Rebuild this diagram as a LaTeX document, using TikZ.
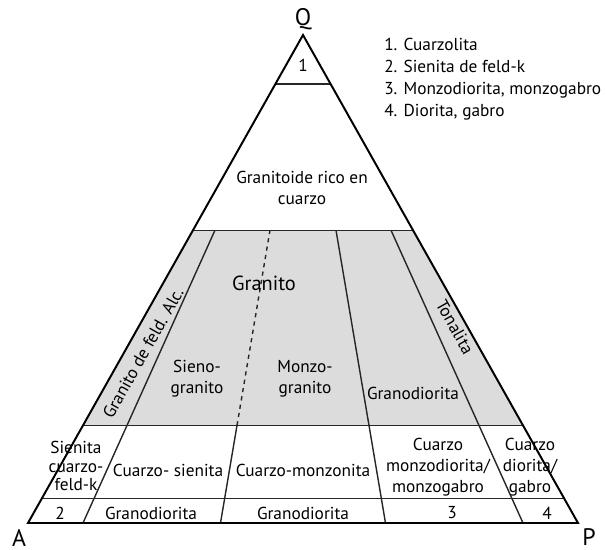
\documentclass[tikz,border=0pt]{standalone}
\usepackage{fontspec}
\setmainfont{PT Sans}
\usepackage{xcolor}
\usetikzlibrary{calc}
\definecolor{field}{HTML}{DCDCDC}

\begin{document}
\begin{tikzpicture}[
  x=0.025cm, y=-0.025cm,
  every node/.style={font=\fontsize{12.3}{15}\selectfont, align=center, inner sep=0pt},
  rim/.style={black, line width=1.4pt},
  div/.style={black!85, line width=1pt},
  pole/.style={font=\fontsize{17}{19}\selectfont},
  key/.style={font=\fontsize{12.3}{15.6}\selectfont, align=left}
]
\useasboundingbox (0,0) rectangle (607,549);
\coordinate (Q) at (303,35);
\coordinate (A) at (28,523);
\coordinate (P) at (578,523);

% granite field
\fill[field] ($(A)!0.2!(Q)$) -- ($(A)!0.6!(Q)$) -- ($(P)!0.6!(Q)$) -- ($(P)!0.2!(Q)$) -- cycle;

% Q levels
\foreach \q in {0.05, 0.2, 0.6, 0.9}
  \draw[div] ($(A)!\q!(Q)$) -- ($(P)!\q!(Q)$);

% P/(A+P) dividers
\foreach \r/\name in {0.1/b10, 0.35/b35, 0.65/b65, 0.9/b90}
  \coordinate (\name) at ($(A)!\r!(P)$);
\draw[div] (b10) -- ($(b10)!0.6!(Q)$);
\draw[div] (b35) -- ($(b35)!0.2!(Q)$);
\draw[div, dashed] ($(b35)!0.2!(Q)$) -- ($(b35)!0.6!(Q)$);
\draw[div] (b65) -- ($(b65)!0.6!(Q)$);
\draw[div] (b90) -- ($(b90)!0.6!(Q)$);

\draw[rim] (A) -- (Q) -- (P) -- cycle;

% corners
\node[pole] (lQ) at (303,19) {Q};
\node[pole] (lA) at (19,538) {A};
\node[pole] (lP) at (589,537) {P};

% key
\node[key, anchor=north west] (legend) at (384,38)
  {1. Cuarzolita\\2. Sienita de feld-k\\3. Monzodiorita, monzogabro\\4. Diorita, gabro};

% fields
\node (f1) at (303,65) {1};
\node (rico) at (302,188) {Granitoide rico en\\cuarzo};
\node[font=\fontsize{14.5}{16}\selectfont] (granito) at (264,283) {Granito};
\node[rotate=60.6] (alc) at (143,353) {Granito de feld. Alc.};
\node[rotate=-60.6] (tonal) at (455,327) {Tonalita};
\node (sieno) at (197,379) {Sieno-\\granito};
\node (monzo) at (305,379) {Monzo-\\granito};
\node (grdio) at (413,393) {Granodiorita};

\node[font=\fontsize{12.3}{13}\selectfont] (qsfk) at (76,466) {Sienita\\cuarzo-\\feld-k};
\node (qsien) at (168,470) {Cuarzo- sienita};
\node (qmonz) at (303,470) {Cuarzo-monzonita};
\node (qmzd) at (438,467) {Cuarzo\\monzodiorita/\\monzogabro};
\node (qdio) at (530,467) {Cuarzo\\diorita/\\gabro};

\node (r2) at (60,513) {2};
\node (grA) at (151,513) {Granodiorita};
\node (grB) at (303,513) {Granodiorita};
\node (r3) at (452,513) {3};
\node (r4) at (547,513) {4};
\end{tikzpicture}
\end{document}
